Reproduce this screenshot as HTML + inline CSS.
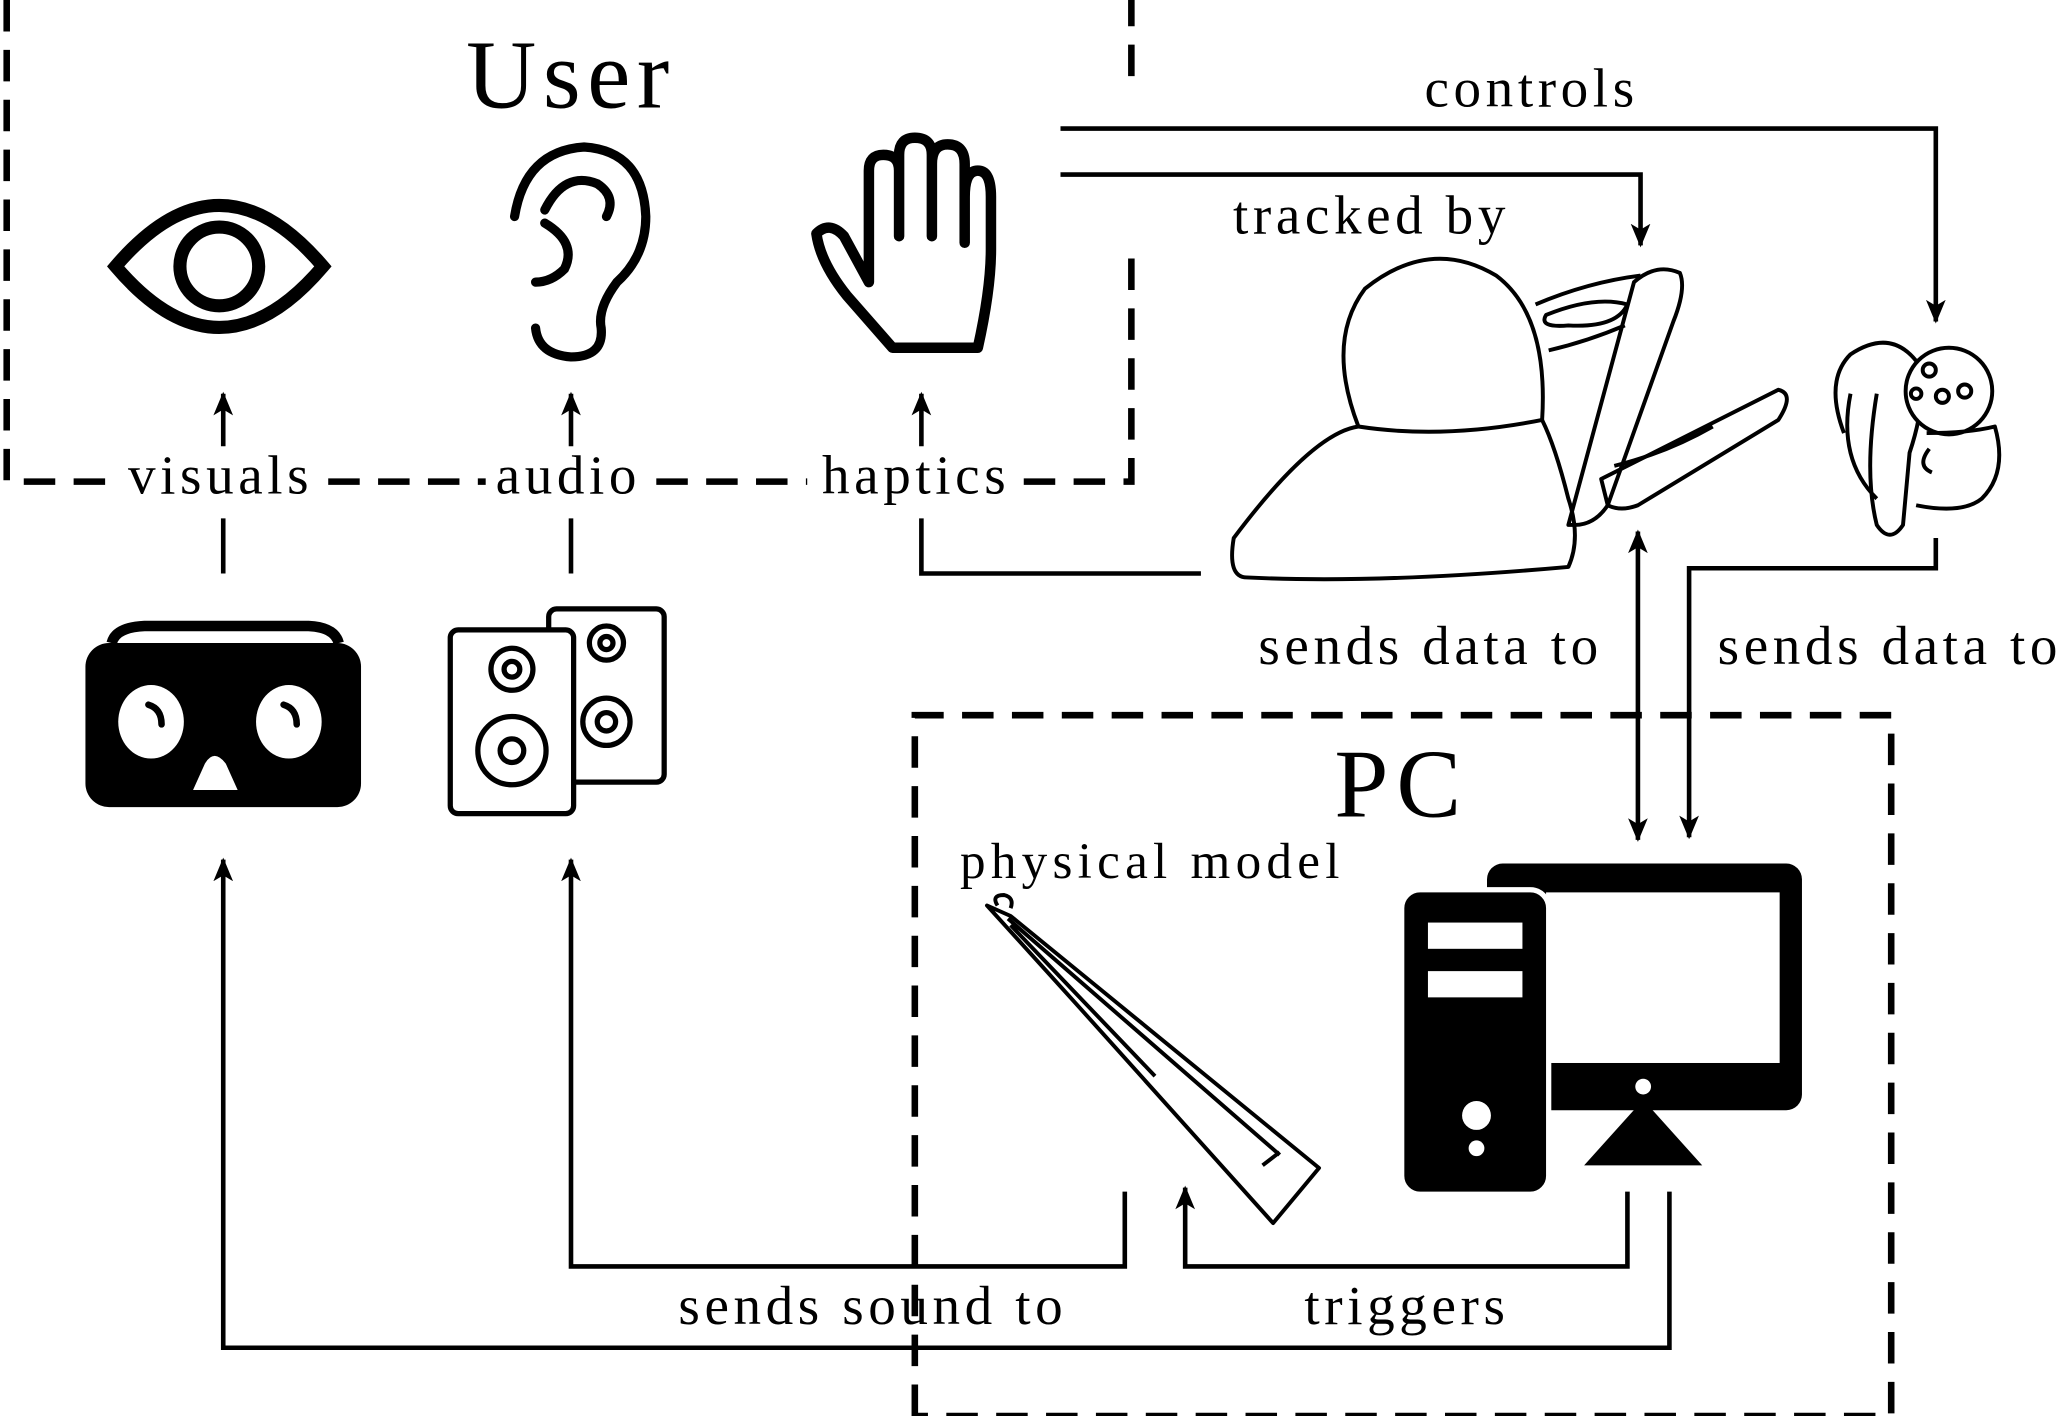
<!DOCTYPE html>
<html><head><meta charset="utf-8"><style>
html,body{margin:0;padding:0;background:#fff;}
svg{display:block}
text{font-family:"Liberation Serif",serif;fill:#000}
</style></head><body>
<svg width="2058" height="1416" viewBox="0 0 1568 1079" xmlns="http://www.w3.org/2000/svg">
<defs>
<marker id="b" viewBox="0 0 12 12" refX="11" refY="6" markerWidth="18" markerHeight="18" orient="auto-start-reverse" markerUnits="userSpaceOnUse">
<path d="M0,1 L12,6 L0,11 L3,6 z" fill="#000"/></marker>
</defs>
<g fill="none" stroke="#000" stroke-width="5" stroke-dasharray="24,14">
<path d="M5,0 V367 H90"/>
<path d="M250,367 H370"/>
<path d="M500,367 H615"/>
<path d="M780,367 H862 V185"/>
<path d="M862,58 V0"/>
<path d="M697,1079 V545 H1441 V1079 H697"/>
</g>
<text x="435" y="82" font-size="74" letter-spacing="5" text-anchor="middle">User</text>
<text x="1068" y="622" font-size="74" letter-spacing="6" text-anchor="middle">PC</text>
<g font-size="42" letter-spacing="3.5" text-anchor="middle">
<text x="168" y="376">visuals</text>
<text x="433" y="376">audio</text>
<text x="698" y="376">haptics</text>
<text x="1167" y="81">controls</text>
<text x="1045" y="178">tracked by</text>
<text x="1090" y="506">sends data to</text>
<text x="1440" y="506">sends data to</text>
<text x="665" y="1009">sends sound to</text>
<text x="1072" y="1009">triggers</text>
<text x="878" y="669" font-size="39" letter-spacing="4">physical model</text>
</g>
<g fill="none" stroke="#000" stroke-width="3.5">
<path d="M170,437 V395"/><path d="M170,340 V300" marker-end="url(#b)"/>
<path d="M435,437 V395"/><path d="M435,340 V300" marker-end="url(#b)"/>
<path d="M915,437 H702 V395"/><path d="M702,340 V300" marker-end="url(#b)"/>
<path d="M808,98 H1475 V245" marker-end="url(#b)"/>
<path d="M808,133 H1250 V187" marker-end="url(#b)"/>
<path d="M1248,405 V640" marker-start="url(#b)" marker-end="url(#b)"/>
<path d="M1475,410 V433 H1287 V638" marker-end="url(#b)"/>
<path d="M1272,908 V1027 H170 V655" marker-end="url(#b)"/>
<path d="M857,908 V965 H435 V655" marker-end="url(#b)"/>
<path d="M1240,908 V965 H903 V905" marker-end="url(#b)"/>
</g>
<!-- eye -->
<g fill="none" stroke="#000" stroke-width="10">
<path d="M88,203 Q167,110 246,203 Q167,296 88,203 Z"/>
<circle cx="167" cy="203" r="30"/>
</g>
<!-- ear -->
<g fill="none" stroke="#000" stroke-width="7" stroke-linecap="round">
<path d="M392,165 Q400,115 445,112 Q490,115 492,165 Q492,195 470,215 Q455,235 458,250 Q460,272 435,272 Q410,270 408,250"/>
<path d="M415,160 Q430,130 455,140 Q470,150 462,165"/>
<path d="M415,170 Q440,185 430,205 Q420,215 408,215"/>
</g>
<!-- hand -->
<path d="M680,265 L745,265 Q755,220 755,190 V150 Q755,130 745,130 Q735,130 735,150 V185 V125 Q735,110 722,110 Q710,110 710,125 V180 V118 Q710,105 697,105 Q685,105 685,118 V180 V130 Q685,118 673,118 Q662,118 662,130 V215 L643,180 Q632,168 622,178 Q625,200 645,225 Z" fill="none" stroke="#000" stroke-width="8" stroke-linejoin="round"/>
<!-- VR headset -->
<path d="M85,490 Q88,478 110,477 H235 Q255,478 258,490" fill="none" stroke="#000" stroke-width="8"/>
<rect x="65" y="490" width="210" height="125" rx="18" fill="#000"/>
<ellipse cx="115" cy="550" rx="25" ry="28" fill="#fff"/><ellipse cx="220" cy="550" rx="25" ry="28" fill="#fff"/>
<path d="M113,537 q10,3 10,15 M216,537 q10,3 10,15" stroke="#000" stroke-width="5" fill="none" stroke-linecap="round"/>
<path d="M147,602 L156,582 Q163,570 172,582 L181,602 Z" fill="#fff"/>
<!-- speakers -->
<g fill="none" stroke="#000" stroke-width="4">
<rect x="418" y="464" width="88" height="132" rx="6"/>
<rect x="343" y="480" width="94" height="140" rx="6" fill="#fff"/>
<circle cx="462" cy="490" r="13"/><circle cx="462" cy="490" r="5"/>
<circle cx="462" cy="550" r="18"/><circle cx="462" cy="550" r="7"/>
<circle cx="390" cy="510" r="16"/><circle cx="390" cy="510" r="6"/>
<circle cx="390" cy="572" r="26"/><circle cx="390" cy="572" r="9"/>
</g>
<!-- haptic device -->
<g fill="none" stroke="#000" stroke-width="3" stroke-linejoin="round">
<path d="M1035,325 Q1010,260 1040,220 Q1090,180 1140,210 Q1180,240 1175,320"/>
<path d="M1035,325 Q1100,335 1175,320"/>
<path d="M1035,325 Q1000,330 940,410 Q935,440 950,440 Q1050,445 1195,432 Q1205,410 1195,380 Q1185,340 1175,320"/>
<path d="M1170,232 Q1210,215 1250,210 M1180,267 Q1210,260 1238,248"/>
<path d="M1178,240 Q1215,225 1240,232 Q1232,250 1195,248 Q1172,250 1178,240 Z"/>
<path d="M1195,400 L1245,215 Q1262,200 1280,208 Q1285,220 1275,245 L1225,385 Q1215,400 1200,400 Z"/>
<path d="M1220,365 L1355,297 Q1368,300 1355,320 L1248,385 Q1235,390 1225,385 Z"/>
<path d="M1230,355 Q1270,345 1305,325"/>
<!-- controller -->
<path d="M1405,330 Q1390,290 1410,270 Q1440,250 1460,275 Q1470,300 1455,345 L1450,400 Q1440,415 1430,400 Q1420,360 1430,300"/>
<path d="M1410,300 Q1400,350 1430,380"/>
<circle cx="1485" cy="298" r="33" fill="#fff"/>
<circle cx="1470" cy="282" r="5"/><circle cx="1460" cy="300" r="4"/><circle cx="1480" cy="302" r="5"/><circle cx="1497" cy="298" r="5"/>
<path d="M1468,330 Q1500,330 1520,325 Q1530,360 1510,380 Q1495,392 1460,385"/>
<path d="M1470,342 Q1460,355 1472,360"/>
</g>
<!-- computer -->
<rect x="1133" y="658" width="240" height="188" rx="12" fill="#000"/>
<rect x="1178" y="680" width="178" height="130" fill="#fff"/>
<circle cx="1252" cy="828" r="6" fill="#fff"/>
<path d="M1207,888 L1252,838 L1297,888 Z" fill="#000"/>
<rect x="1068" y="678" width="112" height="232" rx="14" fill="#000" stroke="#fff" stroke-width="4"/>
<rect x="1088" y="703" width="72" height="20" fill="#fff"/>
<rect x="1088" y="740" width="72" height="20" fill="#fff"/>
<circle cx="1125" cy="850" r="11" fill="#fff"/><circle cx="1125" cy="875" r="6" fill="#fff"/>
<!-- physical model -->
<g fill="none" stroke="#000" stroke-width="3" stroke-linejoin="round">
<path d="M752,690 L770,698 L1005,890 L970,932 L820,765 Z"/>
<path d="M768,700 L975,880 M770,705 L880,820"/>
<path d="M962,888 L975,878 M760,690 q-5,-8 5,-8 q8,2 5,10"/>
</g>
</svg>
</body></html>
